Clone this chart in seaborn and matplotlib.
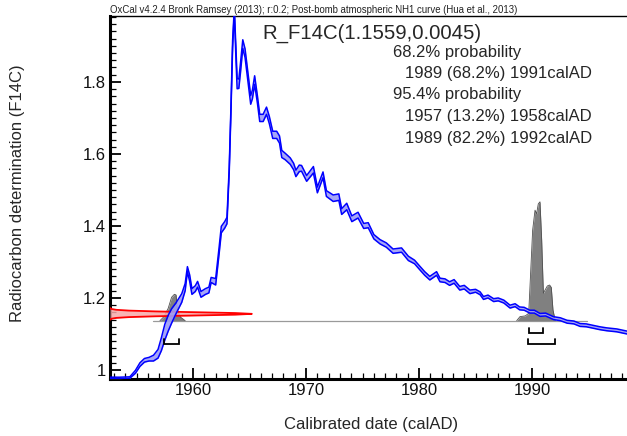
"""OxCal calibration plot of R_F14C(1.1559,0.0045) against the NH1 post-bomb curve."""

import matplotlib
matplotlib.use("Agg")
import matplotlib.pyplot as plt
from matplotlib.ticker import MultipleLocator
import numpy as np
import pandas as pd
import seaborn as sns

# Post-bomb NH1 calibration curve (calAD, F14C, half band width)
cal_year = [
    1952.6, 1953.5, 1954.4, 1954.9, 1955.3, 1955.7, 1956.1, 1956.5, 1956.9, 1957.2,
    1957.5, 1957.8, 1958.1, 1958.5, 1959.0, 1959.3, 1959.5, 1959.7, 1959.9, 1960.2,
    1960.4, 1960.7, 1961.1, 1961.4, 1961.6, 1962.0, 1962.3, 1962.5, 1962.8, 1963.0,
    1963.2, 1963.35, 1963.5, 1963.65, 1963.8, 1963.9, 1964.05, 1964.2, 1964.4, 1964.6,
    1964.85, 1965.1, 1965.25, 1965.45, 1965.7, 1965.9, 1966.2, 1966.5, 1966.75, 1967.05,
    1967.4, 1967.65, 1967.85, 1968.15, 1968.6, 1968.9, 1969.1, 1969.4, 1969.6, 1970.05,
    1970.65, 1971.0, 1971.5, 1971.8, 1972.4, 1972.9, 1973.15, 1973.6, 1974.05, 1974.6,
    1975.1, 1975.5, 1976.0, 1976.55, 1977.1, 1977.7, 1978.45, 1979.05, 1979.6, 1980.1,
    1980.5, 1980.95, 1981.55, 1981.85, 1982.3, 1982.7, 1983.1, 1983.6, 1984.0, 1984.5,
    1985.0, 1985.4, 1985.7, 1986.1, 1986.6, 1987.0, 1987.5, 1988.05, 1988.5, 1988.9,
    1989.3, 1989.8, 1990.2, 1990.7, 1991.2, 1991.9, 1992.5, 1993.1, 1993.7, 1994.25,
    1994.8, 1995.4, 1996.0, 1996.6, 1997.5, 1998.4]
cal_f14c = [
    0.978, 0.978, 0.979, 0.995, 1.015, 1.027, 1.030, 1.033, 1.045, 1.072,
    1.105, 1.130, 1.150, 1.172, 1.200, 1.230, 1.280, 1.255, 1.218, 1.226,
    1.238, 1.210, 1.218, 1.222, 1.250, 1.245, 1.330, 1.390, 1.403, 1.415,
    1.556, 1.720, 1.905, 2.000, 1.875, 1.795, 1.795, 1.840, 1.905, 1.880,
    1.815, 1.750, 1.765, 1.805, 1.750, 1.700, 1.700, 1.720, 1.694, 1.653,
    1.653, 1.640, 1.600, 1.593, 1.580, 1.565, 1.546, 1.560, 1.560, 1.532,
    1.556, 1.500, 1.542, 1.490, 1.477, 1.480, 1.440, 1.454, 1.420, 1.430,
    1.400, 1.402, 1.370, 1.356, 1.347, 1.330, 1.333, 1.310, 1.300, 1.282,
    1.268, 1.255, 1.268, 1.250, 1.248, 1.240, 1.246, 1.227, 1.230, 1.217,
    1.220, 1.213, 1.200, 1.204, 1.194, 1.196, 1.190, 1.176, 1.180, 1.171,
    1.170, 1.162, 1.162, 1.153, 1.154, 1.144, 1.141, 1.134, 1.132, 1.125,
    1.124, 1.120, 1.116, 1.113, 1.110, 1.104]
cal_err = [
    0.002, 0.002, 0.002, 0.004, 0.005, 0.005, 0.005, 0.008, 0.012, 0.018,
    0.022, 0.022, 0.020, 0.015, 0.012, 0.010, 0.007, 0.009, 0.008, 0.008,
    0.008, 0.008, 0.008, 0.008, 0.007, 0.009, 0.009, 0.009, 0.009, 0.009,
    0.007, 0.007, 0.010, 0.005, 0.014, 0.014, 0.013, 0.013, 0.012, 0.012,
    0.012, 0.012, 0.012, 0.012, 0.010, 0.010, 0.010, 0.010, 0.010, 0.010,
    0.010, 0.010, 0.010, 0.009, 0.009, 0.009, 0.009, 0.009, 0.008, 0.008,
    0.009, 0.008, 0.008, 0.008, 0.009, 0.009, 0.008, 0.009, 0.008, 0.008,
    0.007, 0.007, 0.006, 0.006, 0.006, 0.006, 0.006, 0.006, 0.005, 0.005,
    0.005, 0.005, 0.005, 0.005, 0.005, 0.005, 0.005, 0.005, 0.005, 0.005,
    0.004, 0.004, 0.004, 0.004, 0.004, 0.004, 0.004, 0.004, 0.004, 0.004,
    0.004, 0.004, 0.004, 0.004, 0.004, 0.004, 0.004, 0.004, 0.004, 0.004,
    0.004, 0.004, 0.004, 0.004, 0.004, 0.004]

# Measurement R_F14C(1.1559,0.0045), profile in sd units vs relative density
r_mean, r_sd = 1.1559, 0.0045
r_offset_sd = [-3.6, -3.0, -2.5, -2.0, -1.5, -1.0, -0.5, 0.0, 0.5, 1.0, 1.5, 2.0, 2.5, 3.0, 3.6]
r_density = [0.0, 0.011, 0.044, 0.135, 0.325, 0.607, 0.882, 1.0,
             0.882, 0.607, 0.325, 0.135, 0.044, 0.011, 0.0]

# Calibrated probability (relative) - two modes
p1_year = [1957.07, 1957.43, 1957.8, 1958.1, 1958.35, 1958.5, 1958.6, 1958.9, 1959.3]
p1_prob = [0.0, 0.034, 0.104, 0.197, 0.222, 0.216, 0.09, 0.029, 0.0]
p2_year = [1988.64, 1988.93, 1989.4, 1989.7, 1989.8, 1990.05, 1990.26, 1990.4,
           1990.55, 1990.7, 1990.85, 1991.0, 1991.15, 1991.35, 1991.55, 1991.7,
           1991.85, 1992.05]
p2_prob = [0.0, 0.034, 0.04, 0.062, 0.258, 0.762, 0.93, 0.90,
           0.983, 1.0, 0.678, 0.23, 0.258, 0.292, 0.30, 0.28,
           0.09, 0.0]
prob_span = [1956.45, 1994.9]

# Highest probability ranges
range68 = [(1989.7, 1990.95)]
range95 = [(1957.4, 1958.75), (1989.6, 1992.0)]

title_top = ("OxCal v4.2.4 Bronk Ramsey (2013); r:0.2; "
             "Post-bomb atmospheric NH1 curve (Hua et al., 2013)")
name_txt = "R_F14C(1.1559,0.0045)"
summary = [
    ("68.2% probability", False),
    ("1989 (68.2%) 1991calAD", True),
    ("95.4% probability", False),
    ("1957 (13.2%) 1958calAD", True),
    ("1989 (82.2%) 1992calAD", True),
]

sns.set_style("ticks")
plt.rcParams['font.family'] = ['Liberation Sans', 'DejaVu Sans']

X0, X1 = 1952.65, 1998.4
Y0, Y1 = 0.975, 1.983
BASE = 1.137        # baseline of the calibrated distribution
PSCALE = 0.33       # height of a probability of 1
RTIP = 12.55        # length of the measurement profile, years

fig = plt.figure(figsize=(6.27, 4.36), dpi=100)
ax = fig.add_axes([110/627, 57/436, 517/627, 363/436])

# calibrated distribution
ax.plot(prob_span, [BASE, BASE], color='#9a9a9a', lw=0.9, zorder=1)
for yrs, prb in ((p1_year, p1_prob), (p2_year, p2_prob)):
    top = BASE + np.array(prb)*PSCALE
    ax.fill_between(yrs, BASE, top, color='#808080', lw=0, zorder=2)
    ax.plot(yrs, top, color='#505050', lw=0.6, zorder=2)

# measurement on the y axis
r_y = r_mean + np.array(r_offset_sd)*r_sd
r_x = X0 + np.array(r_density)*RTIP
ax.fill_betweenx(r_y, X0, r_x, color='#f7a8a8', alpha=0.85, lw=0, zorder=3)
ax.plot(r_x, r_y, color='#ff0000', lw=1.3, zorder=3)

# calibration curve band
cal = pd.DataFrame({'year': cal_year, 'f14c': cal_f14c, 'err': cal_err})
cal['hi'] = cal['f14c'] + cal['err']
cal['lo'] = cal['f14c'] - cal['err']
ax.fill_between(cal['year'], cal['lo'], cal['hi'], color='#9d9df7', alpha=0.9,
                lw=0, zorder=4)
for col in ('hi', 'lo'):
    sns.lineplot(data=cal, x='year', y=col, sort=False, color='#0000ff',
                 lw=1.1, ax=ax, zorder=5)

# range brackets
for rngs, ylev in ((range68, 1.1036), (range95, 1.072)):
    for a, b in rngs:
        ax.plot([a, a, b, b], [ylev + 0.014, ylev, ylev, ylev + 0.014],
                color='black', lw=1.3, zorder=6, solid_joinstyle='miter')

ax.set_xlim(X0, X1)
ax.set_ylim(Y0, Y1)
ax.set_xticks([1960, 1970, 1980, 1990])
ax.set_xticklabels(['1960', '1970', '1980', '1990'])
ax.set_yticks([1.0, 1.2, 1.4, 1.6, 1.8])
ax.set_yticklabels(['1', '1.2', '1.4', '1.6', '1.8'])
ax.xaxis.set_minor_locator(MultipleLocator(1))
ax.yaxis.set_minor_locator(MultipleLocator(0.02))
ax.tick_params(which='major', direction='in', length=8, width=1.3,
               labelsize=12, pad=3, color='black', labelcolor='#111111')
ax.tick_params(which='minor', direction='in', length=4, width=0.9, color='black')
ax.set_xlabel('')
ax.set_ylabel('')
for side in ('left', 'bottom'):
    ax.spines[side].set_linewidth(2.2)
    ax.spines[side].set_color('black')
ax.spines['top'].set_linewidth(1.0)
ax.spines['top'].set_color('black')
ax.spines['right'].set_visible(False)

ax.text(0, 1.004, title_top, transform=ax.transAxes, fontsize=6.9,
        ha='left', va='bottom', color='#222222')
fig.text(262/627, 1 - 33/436, name_txt, fontsize=14.7, ha='left', va='center')
for i, (line, indent) in enumerate(summary):
    xpx = 405 if indent else 393
    fig.text(xpx/627, 1 - (52 + 21.5*i)/436, line, fontsize=12,
             ha='left', va='center')

fig.text(18/627, 1 - 193/436, 'Radiocarbon determination (F14C)', fontsize=12,
         rotation=90, ha='center', va='center')
fig.text(371/627, 1 - 424/436, 'Calibrated date (calAD)', fontsize=12,
         ha='center', va='center')

fig.savefig('out.png', dpi=100)
